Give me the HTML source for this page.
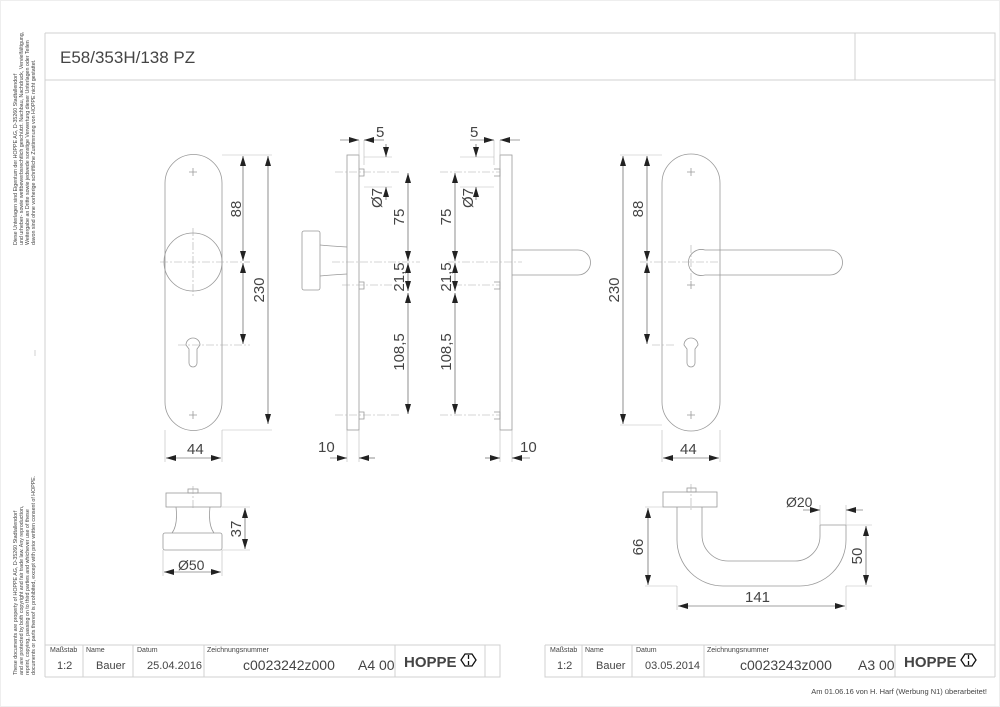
<!DOCTYPE html>
<html><head><meta charset="utf-8"><style>
html,body{margin:0;padding:0;background:#fff}
svg{display:block}
text{font-family:"Liberation Sans",sans-serif;fill:#444}
</style></head><body>
<svg width="1000" height="707" viewBox="0 0 1000 707" xmlns="http://www.w3.org/2000/svg">
<defs>
<marker id="a" viewBox="0 0 10 6" refX="10" refY="3" markerWidth="10" markerHeight="6" orient="auto-start-reverse" markerUnits="userSpaceOnUse"><path d="M0,0L10,3L0,6z" fill="#222"/></marker>
</defs>
<rect x="0.5" y="0.5" width="999" height="706" fill="#fff" stroke="#eee"/>
<g stroke="#d0d0d0" fill="none" stroke-width="1">
<path d="M45,33H995V677M45,33V677M45,80H995M855,33V80"/>
<path d="M45,645H500V677H45M83,645V677M133,645V677M204,645V677M395,645V677M485,645V677"/>
<path d="M545,645H995M545,645V677H995M582,645V677M632,645V677M704,645V677M895,645V677"/>
<path d="M35,350V356"/>
</g>
<text x="60" y="63" font-size="17" fill="#333">E58/353H/138 PZ</text>
<g font-size="5.3" fill="#999">
<text transform="translate(17,245) rotate(-90)">Diese Unterlagen sind Eigentum der HOPPE AG, D-35260 Stadtallendorf</text>
<text transform="translate(23,245) rotate(-90)">und urheber- sowie wettbewerbsrechtlich geschützt. Nachbau, Nachdruck, Vervielfältigung,</text>
<text transform="translate(29,245) rotate(-90)">Weitergabe an Dritte sowie jedwede sonstige Verwertung dieser Unterlagen oder Teilen</text>
<text transform="translate(35,245) rotate(-90)">davon sind ohne vorherige schriftliche Zustimmung von HOPPE nicht gestattet.</text>
<text transform="translate(17,675) rotate(-90)">These documents are property of HOPPE AG, D-35260 Stadtallendorf</text>
<text transform="translate(23,675) rotate(-90)">and are protected by both copyright and fair trade law. Any reproduction,</text>
<text transform="translate(29,675) rotate(-90)">reprint, copying, passing on to third parties and whichever use of these</text>
<text transform="translate(35,675) rotate(-90)">documents or parts thereof is prohibited, except with prior written consent of HOPPE.</text>
</g>
<g font-size="7" fill="#777">
<text x="50" y="652">Maßstab</text><text x="86" y="652">Name</text><text x="137" y="652">Datum</text><text x="207" y="652">Zeichnungsnummer</text>
<text x="550" y="652">Maßstab</text><text x="585" y="652">Name</text><text x="636" y="652">Datum</text><text x="707" y="652">Zeichnungsnummer</text>
</g>
<g font-size="11" fill="#555">
<text x="57" y="669">1:2</text><text x="96" y="669">Bauer</text><text x="147" y="669">25.04.2016</text>
<text x="557" y="669">1:2</text><text x="596" y="669">Bauer</text><text x="645" y="669">03.05.2014</text>
</g>
<g font-size="14" fill="#444">
<text x="243" y="670">c0023242z000</text><text x="358" y="670">A4 00</text>
<text x="740" y="670">c0023243z000</text><text x="858" y="670">A3 00</text>
</g>
<g font-size="15" font-weight="bold" fill="#111">
<text x="404" y="667">HOPPE</text><text x="904" y="667">HOPPE</text>
</g>
<g fill="none" stroke="#111" stroke-width="1.3">
<path d="M465,654h7l4,6l-4,6h-7l-4-6z M468.5,655v4M468.5,661v4"/>
<path d="M965,654h7l4,6l-4,6h-7l-4-6z M968.5,655v4M968.5,661v4"/>
</g>
<text x="987" y="694" font-size="7.5" fill="#777" text-anchor="end">Am 01.06.16 von H. Harf (Werbung N1) überarbeitet!</text>

<g stroke="#999" fill="none" stroke-width="0.8">
<path d="M165,183A28,28 0 0 1 222,183V402A28,28 0 0 1 165,402Z"/>
<circle cx="193" cy="262" r="29"/>
<path d="M186,345a7,7 0 1 1 14,0 l-3,4v14a4,4 0 0 1 -8,0v-14z"/>
<path d="M189,172h8M193,168v8M189,415h8M193,411v8"/>
<path d="M662,183A29,29 0 0 1 720,183V402A29,29 0 0 1 662,402Z"/>
<path d="M684,345a7,7 0 1 1 14,0 l-3,4v14a4,4 0 0 1 -8,0v-14z"/>
<path d="M687,172h8M691,168v8M687,415h8M691,411v8M687,285h8M691,281v8"/>
<path d="M705,250H830A12.5,12.5 0 0 1 830,275H705" />
<path d="M705,250A13,13 0 1 0 705,275"/>
<rect x="347" y="155" width="12" height="275"/>
<rect x="302" y="231" width="18" height="59" rx="2"/>
<path d="M320,245Q330,246 347,247M320,276Q330,275 347,274"/>
<path d="M359,169h5v7h-5M359,282h5v7h-5M359,412h5v7h-5"/>
<rect x="500" y="155" width="12" height="275"/>
<path d="M494,169h6v7h-6M494,282h6v7h-6M494,412h6v7h-6"/>
<path d="M512,250H578A12.5,12.5 0 0 1 578,275H512"/>
<rect x="166" y="493" width="55" height="14"/>
<rect x="188" y="489" width="10" height="4"/>
<path d="M176,507Q178,525 172,533M210,507Q208,525 214,533"/>
<rect x="163" y="533" width="59" height="17" rx="2"/>
<rect x="663" y="492" width="54" height="15"/>
<rect x="687" y="488" width="9" height="4"/>
<path d="M677,507V540A46,46 0 0 0 723,586H800A46,46 0 0 0 846,540V525"/>
<path d="M702,507V535A26,26 0 0 0 728,561H795A25,25 0 0 0 820,536V525"/>
<path d="M820,525H846"/>
</g>
<g stroke="#aaa" stroke-width="0.6" stroke-dasharray="8,2,2,2" fill="none">
<path d="M160,262H250M193,228V296M178,345H250M332,262H420M342,285H400M335,172H400M335,415H400"/>
<path d="M440,172H500M440,285H500M440,415H500M448,262H522"/>
<path d="M640,262H720M691,245V280M674,345H650M193,486V510M691,484V510"/>
</g>
<g stroke="#bbb" stroke-width="0.6" fill="none">
<path d="M222,155H272M222,430H272M245,262H250M165,430V462M222,430V462"/>
<path d="M359,140V160M364,140V165M364,157H392M364,187H392M347,430V462M359,430V462"/>
<path d="M494,140V165M500,140V160M460,157H494M460,187H494M500,430V462M512,430V462"/>
<path d="M620,155H662M620,425H662M662,430V462M720,430V462"/>
<path d="M222,507H250M222,550H250M163,550V576M222,550V576"/>
<path d="M645,507H663M645,586H677M846,525H872M846,586H872M677,586V610M846,586V610M820,505V525M846,505V525"/>
</g>
<g stroke="#444" stroke-width="0.6" fill="none" marker-start="url(#a)" marker-end="url(#a)">
<path d="M243,156V261"/><path d="M243,263V344"/><path d="M268,156V424"/>
<path d="M166,458H221"/>
<path d="M408,173V261"/><path d="M408,263V291"/><path d="M408,293V414"/>
<path d="M455,173V261"/><path d="M455,263V291"/><path d="M455,293V414"/>
<path d="M647,156V261"/><path d="M647,263V344"/><path d="M623,156V424"/>
<path d="M663,458H719"/>
<path d="M245,508V549"/><path d="M164,572H221"/>
<path d="M648,508V585"/><path d="M866,526V585"/><path d="M678,606H845"/>
</g>
<g stroke="#444" stroke-width="0.6" fill="none" marker-end="url(#a)">
<path d="M340,140H359"/><path d="M384,140H364"/>
<path d="M386,144V157"/><path d="M386,200V187"/>
<path d="M470,140H494"/><path d="M520,140H500"/>
<path d="M476,144V157"/><path d="M476,200V187"/>
<path d="M330,458H347"/><path d="M375,458H359"/>
<path d="M485,458H500"/><path d="M530,458H512"/>
<path d="M803,510H820"/><path d="M863,510H846"/>
</g>
<g font-size="15" fill="#444">
<text x="187" y="454">44</text><text x="680" y="454">44</text>
<text x="318" y="452">10</text><text x="520" y="452">10</text>
<text x="376" y="137">5</text><text x="470" y="137">5</text>
<text x="178" y="570" font-size="14">Ø50</text>
<text x="786" y="507" font-size="14">Ø20</text>
<text x="745" y="602">141</text>
</g>
<g font-size="15" fill="#444" text-anchor="middle">
<text transform="translate(241,209) rotate(-90)">88</text>
<text transform="translate(264,290) rotate(-90)">230</text>
<text transform="translate(404,217) rotate(-90)">75</text>
<text transform="translate(404,277) rotate(-90)">21,5</text>
<text transform="translate(404,352) rotate(-90)">108,5</text>
<text transform="translate(382,198) rotate(-90)">Ø7</text>
<text transform="translate(451,217) rotate(-90)">75</text>
<text transform="translate(451,277) rotate(-90)">21,5</text>
<text transform="translate(451,352) rotate(-90)">108,5</text>
<text transform="translate(473,198) rotate(-90)">Ø7</text>
<text transform="translate(643,209) rotate(-90)">88</text>
<text transform="translate(619,290) rotate(-90)">230</text>
<text transform="translate(241,529) rotate(-90)">37</text>
<text transform="translate(643,547) rotate(-90)">66</text>
<text transform="translate(862,556) rotate(-90)">50</text>
</g>
</svg>
</body></html>
